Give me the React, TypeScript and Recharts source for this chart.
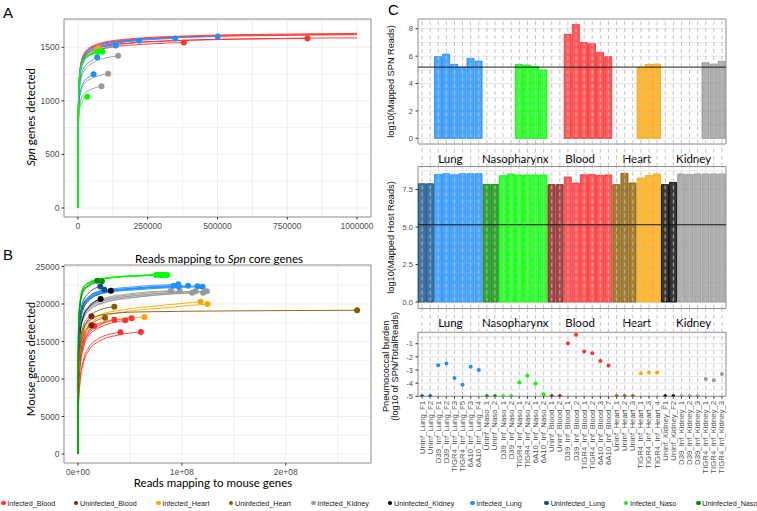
import React from 'react';
import {
  ComposedChart, Line, Scatter, Bar, Cell, XAxis, YAxis, CartesianGrid, ReferenceArea, ReferenceLine,
} from 'recharts';

const SANS = '"Liberation Sans", Arial, Helvetica, sans-serif';
const TITLE_FONT = 'Lato, "Open Sans", sans-serif';
const TICK_COLOR = '#4d4d4d';

// ---------- groups / legend ----------
const GROUPS = [
  'Infected_Blood', 'Uninfected_Blood', 'Infected_Heart', 'Uninfected_Heart', 'Infected_Kidney',
  'Uninfected_Kidney', 'Infected_Lung', 'Uninfected_Lung', 'Infected_Naso', 'Uninfected_Naso',
];
const GROUP_COLORS = [
  '#FF3030', '#8B1A1A', '#FFA500', '#8B5A00', '#999999',
  '#000000', '#1E90FF', '#104E8B', '#00FF00', '#008B00',
];
const COLOR: Record<string, string> = {};
GROUPS.forEach((g, i) => { COLOR[g] = GROUP_COLORS[i]; });
const LEGEND_X = [3.3, 76, 158.3, 231, 313.3, 390, 472.3, 546.7, 626, 698.3];

type Pt = [number, number];

// ---------- Panel A: Spn genes detected vs reads mapping to Spn core genes ----------
const A_INFECTED_BLOOD: Pt[][] = [
  [[0, 0], [1000, 760], [3000, 1050], [8000, 1250], [20000, 1370], [50000, 1450], [120000, 1500], [250000, 1530], [379600, 1545]],
  [[0, 0], [1000, 780], [3000, 1070], [8000, 1270], [20000, 1390], [50000, 1470], [150000, 1530], [400000, 1565], [822500, 1582]],
  [[0, 0], [1000, 810], [3000, 1110], [8000, 1310], [20000, 1430], [50000, 1510], [150000, 1570], [400000, 1607], [700000, 1622], [1000000, 1630]],
  [[0, 0], [1000, 800], [3000, 1100], [8000, 1300], [20000, 1420], [50000, 1500], [150000, 1562], [400000, 1600], [700000, 1615], [1000000, 1623]],
  [[0, 0], [1000, 795], [3000, 1095], [8000, 1295], [20000, 1415], [50000, 1495], [150000, 1555], [400000, 1595], [700000, 1610], [1000000, 1617]],
  [[0, 0], [1000, 780], [3000, 1075], [8000, 1275], [20000, 1395], [50000, 1470], [150000, 1530], [400000, 1568], [700000, 1582], [1000000, 1588]],
];
const A_INFECTED_BLOOD_BEYOND_AXIS = [false, false, true, true, true, true];
const A_INFECTED_HEART: Pt[][] = [
  [[0, 0], [1000, 810], [3000, 1110], [8000, 1290], [20000, 1400], [45000, 1460], [72500, 1492]],
  [[0, 0], [1000, 795], [3000, 1095], [8000, 1275], [20000, 1385], [45000, 1445], [68000, 1475]],
  [[0, 0], [1000, 800], [3000, 1100], [8000, 1280], [20000, 1390], [45000, 1450], [76000, 1480]],
];
const A_INFECTED_KIDNEY: Pt[][] = [
  [[0, 0], [1000, 700], [3000, 980], [8000, 1160], [20000, 1270], [50000, 1350], [100000, 1400], [144000, 1420]],
  [[0, 0], [1000, 650], [3000, 900], [8000, 1060], [20000, 1150], [50000, 1210], [108000, 1252]],
  [[0, 0], [1000, 620], [3000, 850], [8000, 980], [20000, 1060], [50000, 1110], [84500, 1137]],
];
const A_INFECTED_LUNG: Pt[][] = [
  [[0, 0], [1000, 790], [3000, 1090], [8000, 1290], [20000, 1410], [50000, 1490], [150000, 1555], [300000, 1585], [501000, 1601]],
  [[0, 0], [1000, 780], [3000, 1080], [8000, 1280], [20000, 1400], [50000, 1480], [150000, 1545], [250000, 1570], [349000, 1582]],
  [[0, 0], [1000, 770], [3000, 1070], [8000, 1270], [20000, 1390], [50000, 1470], [120000, 1530], [219000, 1561]],
  [[0, 0], [1000, 760], [3000, 1050], [8000, 1240], [20000, 1360], [50000, 1440], [90000, 1490], [135700, 1517]],
  [[0, 0], [1000, 720], [3000, 1000], [8000, 1180], [20000, 1300], [45000, 1370], [69000, 1408]],
  [[0, 0], [1000, 680], [3000, 920], [8000, 1080], [20000, 1170], [40000, 1225], [56000, 1249]],
];
const A_INFECTED_NASO: Pt[][] = [
  [[0, 0], [1000, 640], [3000, 850], [8000, 950], [20000, 1010], [33200, 1039]],
  [[0, 0], [1000, 800], [3000, 1100], [8000, 1270], [20000, 1380], [45000, 1430], [70000, 1455]],
  [[0, 0], [1000, 805], [3000, 1105], [8000, 1275], [20000, 1385], [45000, 1435], [78000, 1462]],
  [[0, 0], [1000, 802], [3000, 1102], [8000, 1272], [20000, 1382], [50000, 1432], [88000, 1458]],
];
const A_SERIES = [
  { group: 'Infected_Blood', curves: A_INFECTED_BLOOD, beyond: A_INFECTED_BLOOD_BEYOND_AXIS },
  { group: 'Infected_Heart', curves: A_INFECTED_HEART },
  { group: 'Infected_Kidney', curves: A_INFECTED_KIDNEY },
  { group: 'Infected_Lung', curves: A_INFECTED_LUNG },
  { group: 'Infected_Naso', curves: A_INFECTED_NASO },
];
const A_X_TICKS = [0, 250000, 500000, 750000, 1000000];
const A_Y_TICKS = [0, 500, 1000, 1500];
const A_X_GRID = [0, 125000, 250000, 375000, 500000, 625000, 750000, 875000, 1000000];
const A_Y_GRID = [0, 250, 500, 750, 1000, 1250, 1500, 1750];

// ---------- Panel B: mouse genes detected vs reads mapping to mouse genes (x in millions) ----------
const B_INFECTED_BLOOD: Pt[][] = [
  [[0, 0], [0.5, 8200], [2, 11800], [5, 14300], [10, 16000], [20, 17100], [35, 17910]],
  [[0, 0], [0.5, 8000], [2, 11500], [5, 14000], [10, 15700], [20, 16800], [32, 17450], [45.5, 17820]],
  [[0, 0], [0.5, 8400], [2, 12000], [5, 14500], [10, 16200], [20, 17300], [35, 17850], [51.6, 18090]],
  [[0, 0], [0.5, 6600], [2, 9900], [5, 12400], [10, 14100], [20, 15400], [30, 15950], [41, 16230]],
  [[0, 0], [0.5, 6300], [2, 9500], [5, 12000], [10, 13700], [20, 15000], [40, 15900], [60.6, 16270]],
  [[0, 0], [0.5, 8600], [2, 12300], [5, 14900], [10, 16400], [15.7, 17070]],
];
const B_UNINFECTED_BLOOD: Pt[][] = [
  [[0, 0], [0.5, 10200], [2, 14000], [5, 16400], [9, 17700], [13, 18360]],
  [[0, 0], [0.5, 9400], [2, 13000], [5, 15300], [9, 16600], [13, 17160]],
];
const B_INFECTED_HEART: Pt[][] = [
  [[0, 0], [0.5, 10500], [2, 14000], [5, 16200], [10, 17500], [20, 18500], [40, 19150], [80, 19800], [118, 20310]],
  [[0, 0], [0.5, 10200], [2, 13600], [5, 15800], [10, 17100], [20, 18150], [40, 18850], [80, 19450], [124.7, 20000]],
  [[0, 0], [0.5, 10400], [2, 13700], [5, 15600], [10, 16700], [25, 17650], [45, 18050], [64, 18270]],
];
const B_UNINFECTED_HEART: Pt[][] = [
  [[0, 0], [0.5, 11500], [2, 15000], [5, 17000], [10, 18250], [20, 19150], [35, 19640]],
  [[0, 0], [0.5, 10500], [2, 13900], [5, 15800], [10, 17000], [18, 17800], [26, 18180]],
  [[0, 0], [0.5, 11300], [2, 14700], [5, 16600], [10, 17700], [25, 18600], [60, 18950], [150, 19080], [268.6, 19160]],
];
const B_INFECTED_KIDNEY: Pt[][] = [
  [[0, 0], [0.5, 12800], [2, 16600], [5, 18600], [10, 19700], [25, 20750], [50, 21350], [89.4, 21780]],
  [[0, 0], [0.5, 12600], [2, 16400], [5, 18400], [10, 19500], [25, 20600], [55, 21300], [98, 21730]],
  [[0, 0], [0.5, 12300], [2, 16000], [5, 18000], [10, 19100], [25, 20250], [60, 21000], [110, 21510]],
  [[0, 0], [0.5, 12600], [2, 16300], [5, 18300], [10, 19400], [25, 20500], [60, 21200], [113, 21700]],
  [[0, 0], [0.5, 12200], [2, 15900], [5, 17900], [10, 19000], [25, 20150], [60, 20950], [120.5, 21510]],
  [[0, 0], [0.5, 12500], [2, 16200], [5, 18200], [10, 19300], [25, 20450], [60, 21150], [124, 21690]],
];
const B_UNINFECTED_KIDNEY: Pt[][] = [
  [[0, 0], [0.5, 13400], [2, 17200], [5, 19300], [10, 20400], [20, 21300], [31.7, 21780]],
  [[0, 0], [0.5, 12400], [2, 16100], [5, 18200], [10, 19500], [21.8, 20670]],
];
const B_INFECTED_LUNG: Pt[][] = [
  [[0, 0], [0.5, 14000], [2, 17900], [5, 19900], [10, 20900], [25, 21800], [55, 22300], [96.5, 22620]],
  [[0, 0], [0.5, 13900], [2, 17700], [5, 19700], [10, 20700], [25, 21650], [55, 22150], [92, 22450]],
  [[0, 0], [0.5, 13800], [2, 17600], [5, 19600], [10, 20600], [25, 21550], [55, 22050], [97, 22350]],
  [[0, 0], [0.5, 13900], [2, 17700], [5, 19700], [10, 20700], [25, 21620], [60, 22130], [106, 22440]],
  [[0, 0], [0.5, 13800], [2, 17600], [5, 19600], [10, 20600], [25, 21550], [65, 22080], [115, 22380]],
  [[0, 0], [0.5, 13700], [2, 17500], [5, 19500], [10, 20500], [25, 21450], [65, 21980], [120, 22310]],
];
const B_UNINFECTED_LUNG: Pt[][] = [
  [[0, 0], [0.5, 14500], [2, 18400], [5, 20400], [10, 21400], [21.5, 22350]],
  [[0, 0], [0.5, 14000], [2, 17900], [5, 19900], [10, 20900], [25.5, 21900]],
];
const B_INFECTED_NASO: Pt[][] = [
  [[0, 0], [0.5, 16500], [2, 20200], [5, 22100], [10, 22800], [25, 23400], [50, 23720], [75, 23880]],
  [[0, 0], [0.5, 16600], [2, 20300], [5, 22200], [10, 22850], [25, 23420], [50, 23740], [78, 23900]],
  [[0, 0], [0.5, 16400], [2, 20100], [5, 22000], [10, 22750], [25, 23350], [50, 23690], [80, 23850]],
  [[0, 0], [0.5, 16500], [2, 20200], [5, 22050], [10, 22780], [25, 23380], [50, 23710], [82, 23870]],
  [[0, 0], [0.5, 16550], [2, 20250], [5, 22150], [10, 22820], [25, 23400], [50, 23730], [84, 23890]],
  [[0, 0], [0.5, 16450], [2, 20150], [5, 22000], [10, 22760], [25, 23360], [50, 23700], [86, 23860]],
];
const B_UNINFECTED_NASO: Pt[][] = [
  [[0, 0], [0.5, 16200], [2, 19900], [5, 21800], [10, 22500], [18.5, 23100]],
  [[0, 0], [0.5, 16000], [2, 19700], [5, 21600], [10, 22350], [23, 23050]],
];
const B_SERIES = [
  { group: 'Infected_Blood', curves: B_INFECTED_BLOOD },
  { group: 'Uninfected_Blood', curves: B_UNINFECTED_BLOOD },
  { group: 'Infected_Heart', curves: B_INFECTED_HEART },
  { group: 'Uninfected_Heart', curves: B_UNINFECTED_HEART },
  { group: 'Infected_Kidney', curves: B_INFECTED_KIDNEY },
  { group: 'Uninfected_Kidney', curves: B_UNINFECTED_KIDNEY },
  { group: 'Infected_Lung', curves: B_INFECTED_LUNG },
  { group: 'Uninfected_Lung', curves: B_UNINFECTED_LUNG },
  { group: 'Infected_Naso', curves: B_INFECTED_NASO },
  { group: 'Uninfected_Naso', curves: B_UNINFECTED_NASO },
];
const B_X_TICKS = [0, 100, 200];
const B_X_TICK_LABELS = ['0e+00', '1e+08', '2e+08'];
const B_Y_TICKS = [0, 5000, 10000, 15000, 20000, 25000];
const B_X_GRID = [0, 50, 100, 150, 200, 250];
const B_Y_GRID = [0, 2500, 5000, 7500, 10000, 12500, 15000, 17500, 20000, 22500, 25000];

// ---------- Panel C ----------
const SAMPLES = [
  'Uninf_Lung_F1', 'Uninf_Lung_F2', 'D39_Inf_Lung_F1', 'D39_Inf_Lung_F2', 'TIGR4_Inf_Lung_F3', 'TIGR4_Inf_Lung_F5', '6A10_Inf_Lung_F3', '6A10_Inf_Lung_F4',
  'Uninf_Naso_1', 'Uninf_Naso_2', 'D39_Inf_Naso_1', 'D39_Inf_Naso_2', 'TIGR4_Inf_Naso_1', 'TIGR4_Inf_Naso_2', '6A10_Inf_Naso_1', '6A10_Inf_Naso_2',
  'Uninf_Blood_1', 'Uninf_Blood_2', 'D39_Inf_Blood_1', 'D39_Inf_Blood_2', 'TIGR4_Inf_Blood_1', 'TIGR4_Inf_Blood_2', '6A10_Inf_Blood_3', '6A10_Inf_Blood_7',
  'Uninf_Heart_1', 'Uninf_Heart_2', 'Uninf_Heart_3', 'TIGR4_Inf_Heart_1', 'TIGR4_Inf_Heart_3', 'TIGR4_Inf_Heart_4',
  'Uninf_Kidney_F1', 'Uninf_Kidney_F2', 'D39_Inf_Kidney_1', 'D39_Inf_Kidney_2', 'D39_Inf_Kidney_3', 'TIGR4_Inf_Kidney_1', 'TIGR4_Inf_Kidney_2', 'TIGR4_Inf_Kidney_3',
];
const SPN_LOG10 = [
  null, null, 5.96, 6.15, 5.4, 5.2, 5.84, 5.64,
  null, null, null, null, 5.4, 5.35, 5.25, 4.99,
  null, null, 7.59, 8.32, 7.0, 6.91, 6.28, 5.96,
  null, null, null, 5.2, 5.4, 5.42,
  null, null, null, null, null, 5.52, 5.42, 5.62,
];
const HOST_LOG10 = [
  7.88, 7.88, 8.5, 8.55, 8.48, 8.55, 8.55, 8.55,
  7.84, 7.84, 8.42, 8.53, 8.47, 8.47, 8.47, 8.47,
  7.82, 7.82, 8.33, 7.93, 8.48, 8.5, 8.44, 8.47,
  7.82, 8.57, 7.93, 8.26, 8.44, 8.53,
  7.82, 7.97, 8.53, 8.5, 8.53, 8.53, 8.53, 8.53,
];
const BURDEN_LOG10 = [
  -5, -5, -2.63, -2.5, -3.6, -4.13, -2.75, -3.0,
  -5, -5, -5, -5, -3.95, -3.44, -4.03, -4.85,
  -5, -5, -0.97, -0.31, -1.6, -1.73, -2.32, -2.65,
  -5, -5, -5, -3.24, -3.19, -3.19,
  -5, -5, -5, -5, -5, -3.69, -3.77, -3.3,
];
const SPN_THRESHOLD = 5.2;
const HOST_THRESHOLD = 5.15;
const TISSUE_KEYS = ['Lung', 'Naso', 'Blood', 'Heart', 'Kidney'];
const TISSUE_LABELS = ['Lung', 'Nasopharynx', 'Blood', 'Heart', 'Kidney'];

const tissueOf = (name: string) => TISSUE_KEYS.find((t) => name.includes(t)) as string;
const ROWS = SAMPLES.map((name, i) => ({
  name,
  group: (name.startsWith('Uninf') ? 'Uninfected_' : 'Infected_') + tissueOf(name),
  spn: SPN_LOG10[i],
  host: HOST_LOG10[i],
  burden: BURDEN_LOG10[i],
}));
const TISSUE_SPANS = TISSUE_KEYS.map((t) => {
  const names = SAMPLES.filter((s) => tissueOf(s) === t);
  return [names[0], names[names.length - 1]];
});

// ---------- geometry ----------
const C_LEFT = 370;
const C_WIDTH = 387;
const C_RIGHT_MARGIN = 31;
const C_YAXIS_W = 48;

const toXY = (c: Pt[]) => c.map(([x, y]) => ({ x, y }));

function Rarefaction(props: any) {
  const {
    series, left, top, width, height, marginTop, marginRight, yAxisWidth, xAxisHeight,
    xDomain, yDomain, xTicks, yTicks, xGrid, yGrid, xFmt, xTitle, xTitleX, xTitleY, yTitle, yTitleX, yTitleY,
  } = props;
  const lines: any[] = [];
  const dots: any[] = [];
  series.forEach((s: any) => {
    const color = COLOR[s.group];
    s.curves.forEach((c: Pt[], i: number) => {
      lines.push(
        <Line key={`l-${s.group}-${i}`} data={toXY(c)} dataKey="y" type="monotone" stroke={color}
          strokeWidth={0.9} dot={false} activeDot={false} isAnimationActive={false} />,
      );
    });
    const ends = s.curves
      .filter((_c: Pt[], i: number) => !(s.beyond && s.beyond[i]))
      .map((c: Pt[]) => ({ x: c[c.length - 1][0], y: c[c.length - 1][1] }));
    dots.push(
      <Scatter key={`d-${s.group}`} data={ends} dataKey="y" isAnimationActive={false}
        shape={(p: any) => <circle cx={p.cx} cy={p.cy} r={3} fill={color} />} />,
    );
  });
  return (
    <div style={{ position: 'absolute', left, top }}>
      <ComposedChart width={width} height={height} margin={{ top: marginTop, right: marginRight, bottom: 0, left: 0 }}>
        <CartesianGrid verticalValues={xGrid} horizontalValues={yGrid} stroke="#ebebeb" strokeWidth={0.8} />
        <XAxis type="number" dataKey="x" domain={xDomain} ticks={xTicks} allowDataOverflow interval={0}
          tickFormatter={xFmt} height={xAxisHeight} axisLine={false} tickLine={{ stroke: '#333' }}
          tickSize={2.5} tickMargin={3}
          tick={{ fontSize: 8.5, fill: TICK_COLOR, fontFamily: SANS }}
          label={{
            content: () => (
              <text x={xTitleX} y={xTitleY} textAnchor="middle"
                dominantBaseline="central" fontSize={11.5} fontFamily={TITLE_FONT} fill="#000">{xTitle}</text>
            ),
          }} />
        <YAxis type="number" dataKey="y" domain={yDomain} ticks={yTicks} allowDataOverflow interval={0}
          width={yAxisWidth} axisLine={false} tickLine={{ stroke: '#333' }} tickSize={2.5} tickMargin={2}
          tick={{ fontSize: 8.5, fill: TICK_COLOR, fontFamily: SANS }}
          label={{
            content: () => (
              <text x={yTitleX} y={yTitleY} transform={`rotate(-90, ${yTitleX}, ${yTitleY})`} textAnchor="middle"
                dominantBaseline="central" fontSize={11.5} fontFamily={TITLE_FONT} fill="#000">{yTitle}</text>
            ),
          }} />
        <ReferenceArea x1={xDomain[0]} x2={xDomain[1]} y1={yDomain[0]} y2={yDomain[1]} fill="none"
          fillOpacity={0} stroke="#7f7f7f" strokeWidth={0.9} />
        {lines}
        {dots}
      </ComposedChart>
    </div>
  );
}

const dashLines = (prefix: string) =>
  SAMPLES.map((s) => (
    <ReferenceLine key={`${prefix}-${s}`} x={s} stroke="#bdbdbd" strokeOpacity={0.9} strokeDasharray="4 3" strokeWidth={1} />
  ));

const panelBorder = (domain: number[]) => (
  <ReferenceArea x1={SAMPLES[0]} x2={SAMPLES[SAMPLES.length - 1]} y1={domain[0]} y2={domain[1]}
    fill="none" fillOpacity={0} stroke="#7f7f7f" strokeWidth={0.9} ifOverflow="visible" />
);

function yTitleContent(lines: string[], dy: number) {
  return (p: any) => {
    const vb = p.viewBox || {};
    const cy = vb.y + vb.height / 2 + dy;
    const xs = lines.length === 1 ? [vb.x + 20.7] : [vb.x + 16.5, vb.x + 25.5];
    return (
      <g>
        {lines.map((t, i) => (
          <text key={t} x={xs[i]} y={cy} transform={`rotate(-90, ${xs[i]}, ${cy})`} textAnchor="middle"
            dominantBaseline="central" fontSize={9.2} fontFamily={SANS} fill="#111">{t}</text>
        ))}
      </g>
    );
  };
}

function BarPanel(props: any) {
  const { top, height, marginTop, marginBottom, dataKey, domain, ticks, grid, fmt, threshold, yTitle } = props;
  return (
    <div style={{ position: 'absolute', left: C_LEFT, top }}>
      <ComposedChart width={C_WIDTH} height={height} data={ROWS} barCategoryGap="4%"
        margin={{ top: marginTop, right: C_RIGHT_MARGIN, bottom: marginBottom, left: 0 }}>
        <CartesianGrid vertical={false} horizontalValues={grid} stroke="#e0e0e0" strokeWidth={0.8} />
        <XAxis dataKey="name" type="category" scale="band" hide interval={0} />
        <YAxis type="number" domain={domain} ticks={ticks} allowDataOverflow interval={0} width={C_YAXIS_W}
          tickFormatter={fmt} axisLine={false} tickLine={{ stroke: '#333' }} tickSize={2.5} tickMargin={2.5}
          tick={{ fontSize: 7.5, fill: TICK_COLOR, fontFamily: SANS }}
          label={{ content: yTitleContent(yTitle, 0) }} />
        <Bar dataKey={dataKey} isAnimationActive={false} fillOpacity={0.78} strokeWidth={0.9}>
          {ROWS.map((r) => <Cell key={r.name} fill={COLOR[r.group]} stroke={COLOR[r.group]} />)}
        </Bar>
        {dashLines(dataKey)}
        <ReferenceLine y={threshold} stroke="#1a1a1a" strokeWidth={1} />
        {panelBorder(domain)}
      </ComposedChart>
    </div>
  );
}

function Strip(props: any) {
  const { top, height, labelDy, id } = props;
  return (
    <div style={{ position: 'absolute', left: C_LEFT, top }}>
      <ComposedChart width={C_WIDTH} height={height} data={ROWS} barCategoryGap="4%"
        margin={{ top: 0, right: C_RIGHT_MARGIN, bottom: 0, left: C_YAXIS_W }}>
        <XAxis dataKey="name" type="category" scale="band" hide interval={0} />
        <YAxis type="number" domain={[0, 1]} allowDataOverflow hide />
        <Bar dataKey={() => 0} isAnimationActive={false} fill="none" stroke="none" />
        {dashLines(id)}
        {TISSUE_SPANS.map(([a, b], i) => (
          <ReferenceArea key={`${id}-t-${i}`} x1={a} x2={b} y1={0} y2={1} fill="none" fillOpacity={0}
            stroke="none" ifOverflow="visible"
            label={{
              content: (p: any) => {
                const vb = p.viewBox || {};
                return (
                  <text x={vb.x + vb.width / 2} y={vb.y + vb.height / 2 + labelDy} textAnchor="middle"
                    dominantBaseline="central" fontSize={11.5} fontFamily={TITLE_FONT} fill="#000">{TISSUE_LABELS[i]}</text>
                );
              },
            }} />
        ))}
      </ComposedChart>
    </div>
  );
}

const RotTick = (p: any) => (
  <text x={p.x} y={p.y} transform={`rotate(-90, ${p.x}, ${p.y})`} textAnchor="end" dominantBaseline="central"
    fontSize={7.8} fill={TICK_COLOR} fontFamily={SANS}>{p.payload.value}</text>
);

function BurdenPanel() {
  const domain = [-5, -0.13];
  return (
    <div style={{ position: 'absolute', left: C_LEFT, top: 296 }}>
      <ComposedChart width={C_WIDTH} height={215} data={ROWS}
        margin={{ top: 36.3, right: C_RIGHT_MARGIN, bottom: 0, left: 0 }}>
        <CartesianGrid vertical={false} horizontalValues={[-5, -4.5, -4, -3.5, -3, -2.5, -2, -1.5, -1, -0.5]}
          stroke="#e0e0e0" strokeWidth={0.8} />
        <XAxis dataKey="name" type="category" scale="band" interval={0} height={114.7} tick={RotTick}
          tickLine={{ stroke: '#333' }} tickSize={2.5} tickMargin={2} axisLine={false} />
        <YAxis type="number" domain={domain} ticks={[-5, -4, -3, -2, -1]} allowDataOverflow interval={0}
          width={C_YAXIS_W} axisLine={false} tickLine={{ stroke: '#333' }} tickSize={2.5} tickMargin={2.5}
          tick={{ fontSize: 7.5, fill: TICK_COLOR, fontFamily: SANS }}
          label={{ content: yTitleContent(['Pneumococcal burden', '(log10 of SPN/TotalReads)'], 2) }} />
        {dashLines('burden')}
        <Scatter dataKey="burden" isAnimationActive={false}
          shape={(p: any) => <circle cx={p.cx} cy={p.cy} r={2} fill={COLOR[p.payload.group]} />} />
        {panelBorder(domain)}
      </ComposedChart>
    </div>
  );
}

const letterStyle = (left: number, top: number): React.CSSProperties => ({
  position: 'absolute', left, top, fontSize: 15, lineHeight: '15px', fontFamily: SANS, color: '#000',
});

export default function App() {
  return (
    <div style={{ position: 'absolute', left: 0, top: 0, width: 757, height: 511, background: '#fff', overflow: 'hidden' }}>
      <Rarefaction
        series={A_SERIES} left={0} top={0} width={380} height={270} marginTop={19} marginRight={9}
        yAxisWidth={64} xAxisHeight={53} xDomain={[-50000, 1050000]} yDomain={[-84, 1764]}
        xTicks={A_X_TICKS} yTicks={A_Y_TICKS} xGrid={A_X_GRID} yGrid={A_Y_GRID}
        xFmt={(v: number) => String(v)}
        xTitle={<><tspan>Reads mapping to </tspan><tspan fontStyle="italic">Spn</tspan><tspan> core genes</tspan></>}
        xTitleX={219} xTitleY={258}
        yTitle={<><tspan fontStyle="italic">Spn</tspan><tspan> genes detected</tspan></>}
        yTitleX={30} yTitleY={117}
      />
      <Rarefaction
        series={B_SERIES} left={0} top={250} width={380} height={245} marginTop={15} marginRight={9}
        yAxisWidth={64} xAxisHeight={32} xDomain={[-13.43, 282.03]} yDomain={[-1200, 25200]}
        xTicks={B_X_TICKS} yTicks={B_Y_TICKS} xGrid={B_X_GRID} yGrid={B_Y_GRID}
        xFmt={(v: number) => B_X_TICK_LABELS[B_X_TICKS.indexOf(v)]}
        xTitle="Reads mapping to mouse genes" xTitleX={213} xTitleY={232}
        yTitle="Mouse genes detected" yTitleX={30} yTitleY={109}
      />
      <BarPanel top={0} height={150} marginTop={19} marginBottom={6} dataKey="spn"
        domain={[-0.415, 8.715]} ticks={[0, 2, 4, 6, 8]} grid={[0, 1, 2, 3, 4, 5, 6, 7, 8]}
        fmt={(v: number) => String(v)} threshold={SPN_THRESHOLD} yTitle={['log10(Mapped SPN Reads)']} />
      <Strip id="s1" top={144} height={22.5} labelDy={3} />
      <BarPanel top={160} height={155} marginTop={6.5} marginBottom={6.5} dataKey="host"
        domain={[-0.43, 9.03]} ticks={[0, 2.5, 5, 7.5]} grid={[0, 1.25, 2.5, 3.75, 5, 6.25, 7.5, 8.75]}
        fmt={(v: number) => v.toFixed(1)} threshold={HOST_THRESHOLD} yTitle={['log10(Mapped Host Reads)']} />
      <Strip id="s2" top={308.5} height={23.8} labelDy={1.2} />
      <BurdenPanel />
      <div style={letterStyle(3, 5)}>A</div>
      <div style={letterStyle(3, 247)}>B</div>
      <div style={letterStyle(388, 2)}>C</div>
      {GROUPS.map((g, i) => (
        <div key={g} style={{
          position: 'absolute', left: LEGEND_X[i] - 2.3, top: 498.5, height: 9, display: 'flex', alignItems: 'center',
          whiteSpace: 'nowrap', fontSize: 7.2, fontFamily: SANS, color: '#1a1a1a',
        }}>
          <span style={{ display: 'inline-block', width: 4.6, height: 4.6, borderRadius: '50%', background: GROUP_COLORS[i], marginRight: 1.7 }} />
          {g}
        </div>
      ))}
    </div>
  );
}
